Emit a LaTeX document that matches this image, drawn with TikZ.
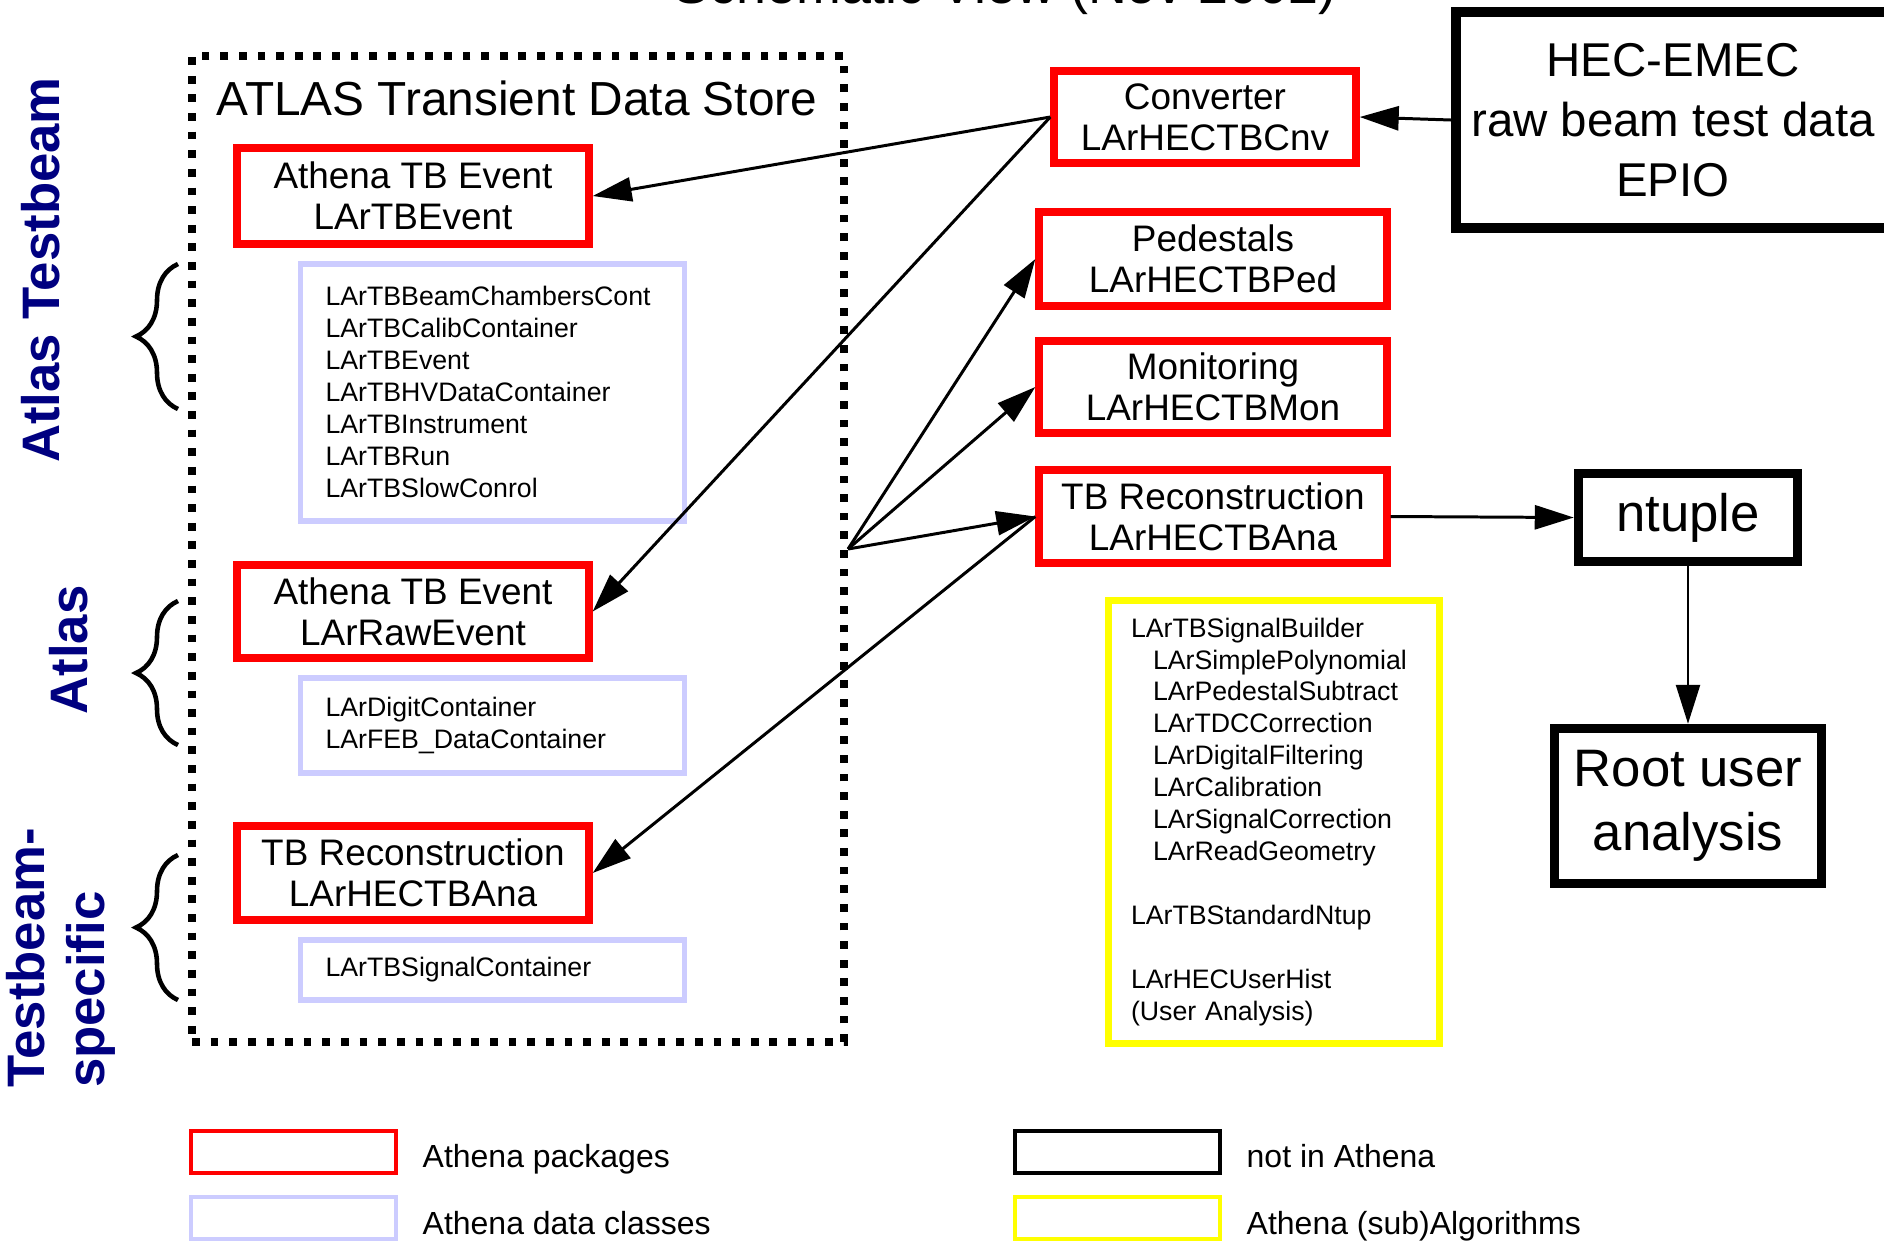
\documentclass[tikz,border=0pt]{standalone}
\usepackage{fontspec}
\setmainfont{Liberation Sans}
\usetikzlibrary{positioning, arrows.meta, decorations.pathreplacing}
\definecolor{cPkg}{HTML}{FF0000}
\definecolor{cData}{HTML}{CCCCFF}
\definecolor{cAlgo}{HTML}{FFFF00}
\definecolor{cSide}{HTML}{000080}

\begin{document}
\begin{tikzpicture}[
  >={Triangle[length=3.9mm, width=2.4mm]},
  pkg/.style={draw=cPkg, line width=2.1pt, align=center, inner sep=0pt,
              font=\fontsize{10.5}{11.7}\selectfont},
  dataclass/.style={draw=cData, line width=1.7pt, align=left, inner ysep=0pt,
                    inner xsep=2.5mm, text width=3.34cm, minimum width=3.84cm,
                    font=\fontsize{7.6}{9.1}\selectfont},
  algo/.style={draw=cAlgo, line width=2.1pt, align=left, inner ysep=0pt,
               inner xsep=2.25mm, text width=2.86cm,
               font=\fontsize{7.6}{9.1}\selectfont},
  ext/.style={draw=black, line width=2.7pt, align=center, inner sep=0pt},
  store/.style={draw=black, line width=2.3pt, dash pattern=on 2.2pt off 3.1pt},
  side/.style={rotate=90, inner sep=0pt, text=cSide,
               font=\fontsize{15}{17}\selectfont\bfseries},
  curly/.style={decorate, decoration={brace, amplitude=4.2mm}, line width=1.3pt},
  legbox/.style={minimum width=2.05cm, minimum height=0.42cm, line width=1.15pt},
  legtxt/.style={anchor=base west, inner sep=0pt, font=\fontsize{9.1}{11}\selectfont},
  flow/.style={->, line width=0.85pt},
]
\useasboundingbox (0,0) rectangle (18.84,-12.43);

% ---- Title (cut by the page top) ---------------------------------------
\node[anchor=base, inner sep=0pt, font=\fontsize{15.3}{18}\selectfont]
  (title) at (10.05,-0.03) {Schematic View (Nov 2002)};

% ---- Transient data store ----------------------------------------------
\node[store, minimum width=6.52cm, minimum height=9.86cm] (tds) at (5.18,-5.49) {};
\node[inner sep=0pt, font=\fontsize{13.6}{16}\selectfont] (tdstitle) at (5.17,-0.98)
  {ATLAS Transient Data Store};

\node[pkg, minimum width=3.52cm, minimum height=0.96cm] (tbevent) at (4.13,-1.96)
  {Athena TB Event\\LArTBEvent};
\node[dataclass, minimum height=2.57cm] (tbclasses) at (4.925,-3.92)
  {LArTBBeamChambersCont\\LArTBCalibContainer\\LArTBEvent\\LArTBHVDataContainer\\
   LArTBInstrument\\LArTBRun\\LArTBSlowConrol};

\node[pkg, minimum width=3.52cm, minimum height=0.93cm] (rawevent) at (4.13,-6.115)
  {Athena TB Event\\LArRawEvent};
\node[dataclass, minimum height=0.95cm] (rawclasses) at (4.925,-7.25)
  {LArDigitContainer\\LArFEB\_DataContainer};

\node[pkg, minimum width=3.52cm, minimum height=0.94cm] (recoL) at (4.13,-8.73)
  {TB Reconstruction\\LArHECTBAna};
\node[dataclass, minimum height=0.60cm] (recoclasses) at (4.925,-9.695)
  {LArTBSignalContainer};

% ---- Side labels and braces ---------------------------------------------
\node[side] (lblTB) at (0.41,-2.70) {Atlas Testbeam};
\node[side] (lblAtlas) at (0.69,-6.50) {Atlas};
\node[side, align=left] (lblSpec) at (0.61,-9.58) {Testbeam-\\specific};

\foreach \ya/\yb in {4.09/2.64, 7.45/6.01, 10.00/8.55} {
  \draw[curly] (1.78,-\ya) -- (1.78,-\yb);
}

% ---- Athena algorithms ---------------------------------------------------
\node[pkg, minimum width=3.02cm, minimum height=0.92cm] (cnv) at (12.05,-1.17)
  {Converter\\LArHECTBCnv};
\node[pkg, minimum width=3.48cm, minimum height=0.94cm] (ped) at (12.13,-2.59)
  {Pedestals\\LArHECTBPed};
\node[pkg, minimum width=3.48cm, minimum height=0.92cm] (mon) at (12.13,-3.87)
  {Monitoring\\LArHECTBMon};
\node[pkg, minimum width=3.48cm, minimum height=0.93cm] (recoR) at (12.13,-5.165)
  {TB Reconstruction\\LArHECTBAna};

\node[algo, minimum height=4.43cm] (algs) at (12.74,-8.22)
  {LArTBSignalBuilder\\
   \hspace*{2.2mm}LArSimplePolynomial\\
   \hspace*{2.2mm}LArPedestalSubtract\\
   \hspace*{2.2mm}LArTDCCorrection\\
   \hspace*{2.2mm}LArDigitalFiltering\\
   \hspace*{2.2mm}LArCalibration\\
   \hspace*{2.2mm}LArSignalCorrection\\
   \hspace*{2.2mm}LArReadGeometry\\[9.1pt]
   LArTBStandardNtup\\[9.1pt]
   LArHECUserHist\\
   (User Analysis)};

% ---- Outside Athena ------------------------------------------------------
\node[ext, minimum width=4.34cm, minimum height=2.16cm,
      font=\fontsize{13.5}{17}\selectfont] (hec) at (16.73,-1.20)
  {HEC-EMEC\\raw beam test data\\EPIO};
\node[ext, minimum width=2.19cm, minimum height=0.88cm,
      font=\fontsize{15}{18.2}\selectfont] (ntuple) at (16.88,-5.175) {ntuple};
\node[ext, minimum width=2.67cm, minimum height=1.55cm,
      font=\fontsize{15}{18.2}\selectfont] (root) at (16.88,-8.06)
  {Root user\\analysis};

% ---- Connections --------------------------------------------------------
\draw[flow] (hec.west) -- (cnv.east);
\draw[flow] (cnv.west) -- (tbevent.east);
\draw[flow] (cnv.west) -- (rawevent.east);
\draw[flow] (recoR.west) -- (recoL.east);
\foreach \t in {ped, mon, recoR} { \draw[flow] (tds.east) -- (\t.west); }
\draw[flow] (recoR.east) -- (ntuple.west);
\draw[flow, line width=0.7pt] (ntuple.south) -- (root.north);

% ---- Legend --------------------------------------------------------------
\node[legbox, draw=cPkg] (legpkg) at (2.935,-11.52) {};
\node[legbox, draw=cData] (legdata) at (2.935,-12.18) {};
\node[legbox, draw=black] (legext) at (11.175,-11.52) {};
\node[legbox, draw=cAlgo] (legalgo) at (11.175,-12.18) {};
\node[legtxt] (legpkgtxt) at (4.22,-11.675) {Athena packages};
\node[legtxt] (legdatatxt) at (4.22,-12.345) {Athena data classes};
\node[legtxt] (legexttxt) at (12.46,-11.675) {not in Athena};
\node[legtxt] (legalgotxt) at (12.46,-12.345) {Athena (sub)Algorithms};

\end{tikzpicture}
\end{document}
